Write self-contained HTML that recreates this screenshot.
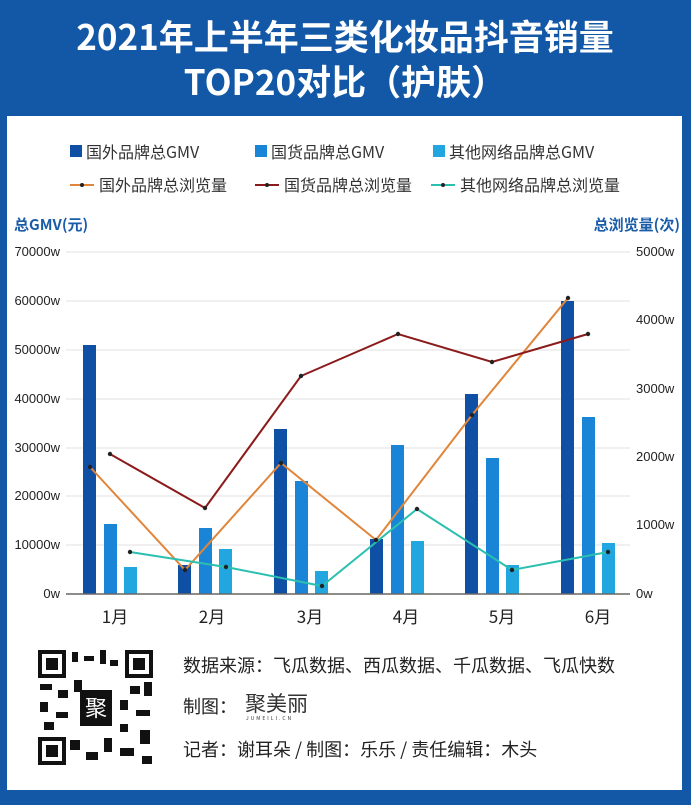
<!DOCTYPE html>
<html><head><meta charset="utf-8"><style>
body{margin:0;width:691px;height:800px;background:#1358a6;font-family:"Liberation Sans","Noto Sans CJK SC",sans-serif;overflow:hidden}
</style></head><body>
<svg width="691" height="800" xmlns="http://www.w3.org/2000/svg" font-family="Liberation Sans, Noto Sans CJK SC, sans-serif">
<rect width="691" height="800" fill="#1358a6"/>
<text x="345" y="50" fill="#fff" font-size="35" font-weight="bold" text-anchor="middle" font-family="Noto Sans CJK SC, sans-serif">2021年上半年三类化妆品抖音销量</text>
<text x="345" y="95" fill="#fff" font-size="35" font-weight="bold" text-anchor="middle" font-family="Noto Sans CJK SC, sans-serif">TOP20对比（护肤）</text>
<rect x="7" y="116" width="675" height="674" fill="#fff"/>
<g font-size="16" fill="#333" font-family="Noto Sans CJK SC, sans-serif">
<rect x="70" y="145" width="12" height="12" fill="#0f50a5"/><text x="86" y="158">国外品牌总GMV</text>
<rect x="255" y="145" width="12" height="12" fill="#1a85d6"/><text x="271" y="158">国货品牌总GMV</text>
<rect x="433" y="145" width="12" height="12" fill="#22a6df"/><text x="449" y="158">其他网络品牌总GMV</text>
<line x1="70" y1="185" x2="94" y2="185" stroke="#e0853a" stroke-width="2"/><circle cx="82" cy="185" r="2" fill="#222"/><text x="99" y="191">国外品牌总浏览量</text>
<line x1="255" y1="185" x2="279" y2="185" stroke="#8b1a1a" stroke-width="2"/><circle cx="267" cy="185" r="2" fill="#222"/><text x="284" y="191">国货品牌总浏览量</text>
<line x1="431" y1="185" x2="455" y2="185" stroke="#2bbfb0" stroke-width="2"/><circle cx="443" cy="185" r="2" fill="#222"/><text x="460" y="191">其他网络品牌总浏览量</text>
</g>
<text x="14" y="230" font-size="15" font-weight="bold" fill="#1a5ca8" font-family="Noto Sans CJK SC, sans-serif">总GMV(元)</text>
<text x="680" y="230" font-size="15" font-weight="bold" fill="#1a5ca8" text-anchor="end" font-family="Noto Sans CJK SC, sans-serif">总浏览量(次)</text>
<g font-size="13" fill="#222">
<g stroke="#e0e0e0" stroke-width="1">
<line x1="66" y1="252" x2="630" y2="252"/><line x1="66" y1="301" x2="630" y2="301"/><line x1="66" y1="350" x2="630" y2="350"/><line x1="66" y1="399" x2="630" y2="399"/><line x1="66" y1="448" x2="630" y2="448"/><line x1="66" y1="496" x2="630" y2="496"/><line x1="66" y1="545" x2="630" y2="545"/>
</g>
<text x="60" y="256" text-anchor="end">70000w</text><text x="60" y="305" text-anchor="end">60000w</text><text x="60" y="354" text-anchor="end">50000w</text><text x="60" y="403" text-anchor="end">40000w</text><text x="60" y="452" text-anchor="end">30000w</text><text x="60" y="500" text-anchor="end">20000w</text><text x="60" y="549" text-anchor="end">10000w</text><text x="60" y="598" text-anchor="end">0w</text>
<text x="636" y="256">5000w</text><text x="636" y="324">4000w</text><text x="636" y="393">3000w</text><text x="636" y="461">2000w</text><text x="636" y="529">1000w</text><text x="636" y="598">0w</text>
</g>
<g fill="#0f50a5">
<rect x="83" y="345" width="13" height="249"/><rect x="178" y="565" width="13" height="29"/><rect x="274" y="429" width="13" height="165"/><rect x="370" y="539" width="13" height="55"/><rect x="465" y="394" width="13" height="200"/><rect x="561" y="301" width="13" height="293"/>
</g>
<g fill="#1a85d6">
<rect x="104" y="524" width="13" height="70"/><rect x="199" y="528" width="13" height="66"/><rect x="295" y="481" width="13" height="113"/><rect x="391" y="445" width="13" height="149"/><rect x="486" y="458" width="13" height="136"/><rect x="582" y="417" width="13" height="177"/>
</g>
<g fill="#22a6df">
<rect x="124" y="567" width="13" height="27"/><rect x="219" y="549" width="13" height="45"/><rect x="315" y="571" width="13" height="23"/><rect x="411" y="541" width="13" height="53"/><rect x="506" y="565" width="13" height="29"/><rect x="602" y="543" width="13" height="51"/>
</g>
<line x1="66" y1="594" x2="630" y2="594" stroke="#666" stroke-width="1.5"/>
<polyline points="90,467 185,570 281,463 376,540 472,415 568,298" fill="none" stroke="#e0853a" stroke-width="2"/>
<polyline points="110,454 205,508 301,376 398,334 492,362 588,334" fill="none" stroke="#8b1a1a" stroke-width="2"/>
<polyline points="130,552 226,567 322,586 417,509 512,570 608,552" fill="none" stroke="#2bbfb0" stroke-width="2"/>
<g fill="#222">
<circle cx="90" cy="467" r="2.2"/><circle cx="185" cy="570" r="2.2"/><circle cx="281" cy="463" r="2.2"/><circle cx="376" cy="540" r="2.2"/><circle cx="472" cy="415" r="2.2"/><circle cx="568" cy="298" r="2.2"/>
<circle cx="110" cy="454" r="2.2"/><circle cx="205" cy="508" r="2.2"/><circle cx="301" cy="376" r="2.2"/><circle cx="398" cy="334" r="2.2"/><circle cx="492" cy="362" r="2.2"/><circle cx="588" cy="334" r="2.2"/>
<circle cx="130" cy="552" r="2.2"/><circle cx="226" cy="567" r="2.2"/><circle cx="322" cy="586" r="2.2"/><circle cx="417" cy="509" r="2.2"/><circle cx="512" cy="570" r="2.2"/><circle cx="608" cy="552" r="2.2"/>
</g>
<g font-size="17" fill="#222" text-anchor="middle" font-family="Noto Sans CJK SC, sans-serif">
<text x="115" y="623">1月</text><text x="212" y="623">2月</text><text x="310" y="623">3月</text><text x="406" y="623">4月</text><text x="502" y="623">5月</text><text x="598" y="623">6月</text>
</g>
<rect x="38" y="650" width="115" height="115" fill="#fff"/>
<g fill="#111">
<rect x="38" y="650" width="28" height="28"/><rect x="42" y="654" width="20" height="20" fill="#fff"/><rect x="46" y="658" width="12" height="12"/>
<rect x="125" y="650" width="28" height="28"/><rect x="129" y="654" width="20" height="20" fill="#fff"/><rect x="133" y="658" width="12" height="12"/>
<rect x="38" y="737" width="28" height="28"/><rect x="42" y="741" width="20" height="20" fill="#fff"/><rect x="46" y="745" width="12" height="12"/>
<rect x="72" y="652" width="6" height="10"/><rect x="84" y="656" width="10" height="5"/><rect x="100" y="650" width="6" height="14"/><rect x="110" y="660" width="8" height="6"/>
<rect x="40" y="684" width="12" height="6"/><rect x="58" y="690" width="10" height="8"/><rect x="74" y="680" width="8" height="12"/><rect x="130" y="686" width="10" height="8"/><rect x="144" y="682" width="8" height="14"/>
<rect x="40" y="702" width="8" height="10"/><rect x="56" y="712" width="12" height="6"/><rect x="120" y="700" width="8" height="10"/><rect x="136" y="710" width="14" height="6"/>
<rect x="44" y="722" width="10" height="8"/><rect x="70" y="740" width="10" height="10"/><rect x="86" y="752" width="12" height="8"/><rect x="104" y="738" width="8" height="14"/><rect x="120" y="748" width="14" height="8"/><rect x="140" y="730" width="10" height="14"/><rect x="142" y="756" width="10" height="8"/><rect x="120" y="724" width="8" height="8"/>
<rect x="80" y="690" width="32" height="36"/>
</g>
<text x="96" y="716" font-size="22" fill="#fff" text-anchor="middle" font-family="Noto Sans CJK SC, sans-serif">聚</text>
<g font-size="18" fill="#222" font-family="Noto Sans CJK SC, sans-serif">
<text x="183" y="672">数据来源：飞瓜数据、西瓜数据、千瓜数据、飞瓜快数</text>
<text x="183" y="713">制图：</text>
<text x="245" y="711" font-size="21" fill="#333">聚美丽</text>
<text x="246" y="720" font-size="5" fill="#333" letter-spacing="2">JUMEILI.CN</text>
<text x="183" y="756">记者：谢耳朵 / 制图：乐乐 / 责任编辑：木头</text>
</g>
</svg>
</body></html>
